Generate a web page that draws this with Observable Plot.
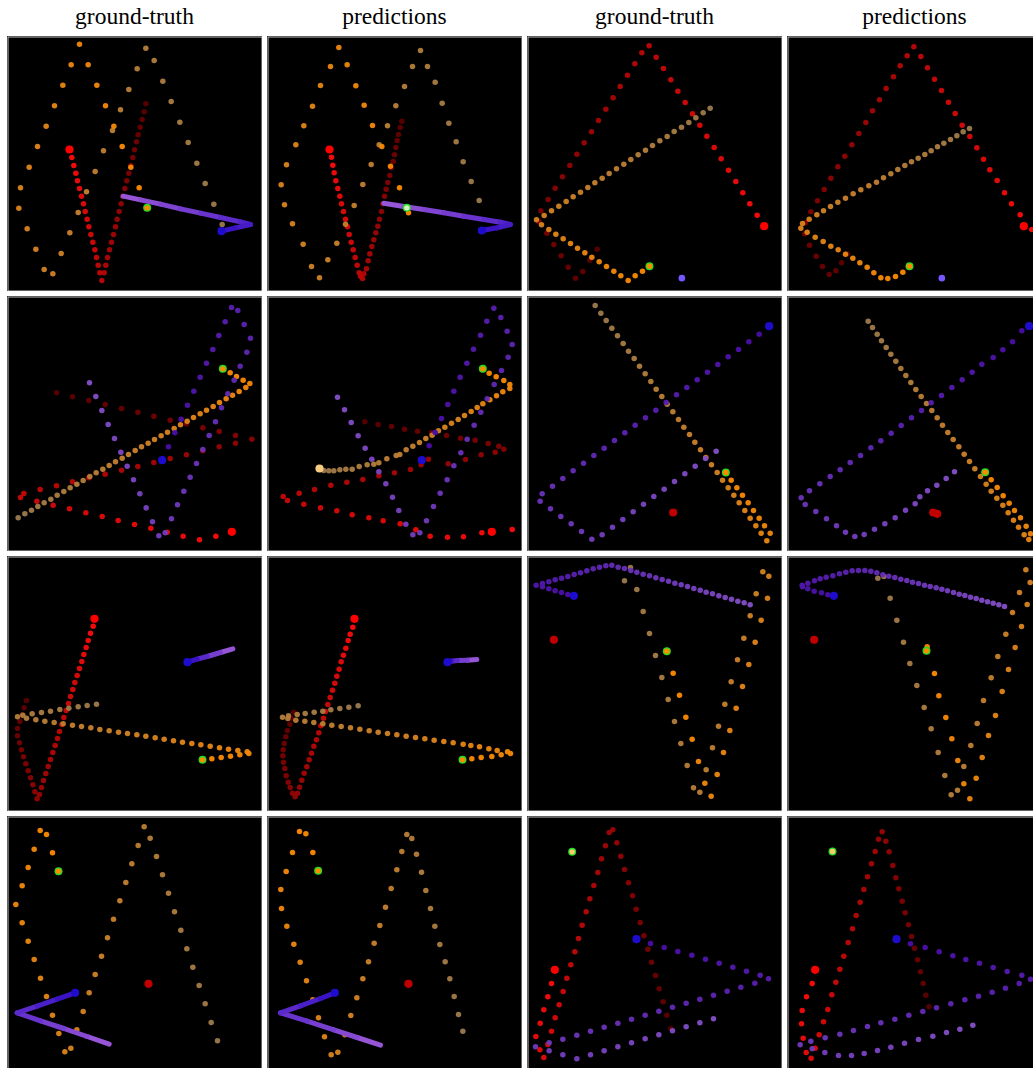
<!DOCTYPE html>
<html><head><meta charset="utf-8">
<script src="https://cdn.jsdelivr.net/npm/d3@7"></script>
<script src="https://cdn.jsdelivr.net/npm/@observablehq/plot@0.6"></script>
<style>
html,body{margin:0;padding:0;background:#fff;overflow:hidden;}
#root{position:relative;width:1033px;height:1068px;overflow:hidden;background:#fff;}
.hdr{position:absolute;top:5px;width:255px;text-align:center;font-family:"Liberation Serif","Times New Roman",serif;font-size:23.5px;line-height:1;color:#000;}
.panel{position:absolute;width:255px;height:255px;}
.panel svg{display:block;}
</style></head><body><div id="root"></div>
<script>
// Column titles
const headers = ["ground-truth", "predictions", "ground-truth", "predictions"];

// Trajectory samples, in 1/3-pixel units
// (each panel spans 765 units). Each list runs from the oldest (dark) sample to the newest.
// ---- row 1, col 1
const r11 = [[436,310],[431,334],[425,357],[419,380],[413,403],[408,424],[402,448],[397,471],[391,495],[385,518],[379,541],[373,564],[367,587],[362,610],[356,633],[350,656],[345,679],[339,702],[333,725],[327,748],[321,771],[316,794],[311,817],[304,840],[298,817],[293,794],[288,771],[283,748],[277,725],[271,702],[265,679],[260,656],[254,633],[249,610],[243,587],[237,564],[231,541],[226,518],[220,495],[214,471]];
const o11 = [[665,672],[640,611],[614,549],[589,488],[563,426],[538,365],[512,303],[487,242],[461,180],[436,143],[410,205],[385,267],[360,328],[336,390],[309,451],[284,513],[258,574],[233,636],[208,697],[182,759],[157,820],[131,807],[106,746],[80,685],[55,623],[60,562],[86,500],[111,438],[137,377],[162,316],[187,254],[212,193],[237,131],[263,193],[289,254],[315,316],[340,377],[365,438],[391,500],[416,562]];
const p11 = [[368,587],[420,598],[480,611],[540,625],[600,638],[660,651],[720,664],[750,672],[705,682],[663,692]];
const h11 = [["red",207,447],["blue",663,692]];
const g11 = [["orange",440,622]];
// ---- row 1, col 2
const r12 = [[1204,362],[1199,381],[1194,402],[1190,420],[1186,441],[1182,463],[1178,483],[1172,502],[1168,525],[1162,546],[1157,566],[1152,587],[1147,610],[1143,633],[1137,656],[1132,677],[1126,697],[1120,718],[1114,738],[1108,760],[1103,781],[1098,805],[1090,820],[1086,834],[1080,827],[1076,817],[1070,794],[1064,771],[1058,748],[1052,725],[1046,702],[1041,679],[1035,656],[1029,633],[1023,610],[1018,587],[1012,564],[1006,541],[1001,517],[997,494],[993,470]];
const o12 = [[1436,600],[1412,543],[1388,484],[1367,424],[1345,368],[1325,308],[1304,245],[1281,198],[1260,150],[1236,198],[1212,258],[1186,316],[1161,376],[1136,433],[1112,492],[1087,552],[1061,615],[1035,671],[1009,728],[982,778],[957,832],[933,798],[908,731],[876,670],[852,613],[842,553],[858,493],[886,433],[910,376],[936,317],[960,255],[990,198],[1015,141],[1040,193],[1066,256],[1091,314],[1116,375],[1144,438],[1170,497],[1197,562],[1224,637]];
const p12 = [[1150,608],[1210,618],[1270,627],[1330,637],[1390,647],[1450,657],[1500,665],[1530,672],[1490,682],[1444,690]];
const h12 = [["red",987,447],["blue",1444,690]];
const g12 = [["mint",1219,622]];
// ---- row 1, col 3
const r13 = [[230,746],[208,779],[187,813],[165,833],[143,800],[122,766],[100,732],[79,698],[55,663],[61,631],[83,597],[104,563],[126,529],[148,495],[169,461],[191,427],[213,394],[234,360],[256,326],[278,292],[299,258],[321,224],[343,190],[364,157],[386,136],[407,170],[429,204],[451,238],[472,272],[494,306],[516,340],[538,374],[559,407],[581,441],[602,475],[624,509],[646,543],[667,577],[688,610],[710,644]];
const o13 = [[569,323],[548,337],[526,352],[505,366],[483,380],[461,393],[440,408],[418,421],[396,435],[375,449],[353,463],[331,477],[310,491],[288,505],[266,519],[245,533],[223,547],[202,561],[180,575],[158,589],[137,603],[115,617],[93,631],[71,645],[48,658],[63,673],[85,687],[106,701],[128,715],[150,729],[171,743],[193,757],[214,770],[236,784],[258,798],[280,812],[301,826],[323,840],[344,826],[366,812]];
const p13 = [];
const h13 = [["red",731,677],["violet",484,833]];
const g13 = [["orange",387,797]];
// ---- row 1, col 4
const r14 = [[981,760],[963,787],[946,811],[926,822],[906,798],[887,767],[867,734],[853,700],[855,667],[871,634],[891,601],[911,567],[931,533],[952,499],[973,467],[994,433],[1015,399],[1036,366],[1056,331],[1077,298],[1097,264],[1119,229],[1139,196],[1160,166],[1180,139],[1201,168],[1221,202],[1242,236],[1263,270],[1284,305],[1304,339],[1325,374],[1348,408],[1369,442],[1389,476],[1408,508],[1430,540],[1452,577],[1473,610],[1499,643],[1534,687]];
const o14 = [[1347,384],[1328,394],[1309,406],[1290,417],[1270,428],[1251,439],[1232,451],[1213,462],[1193,473],[1173,484],[1153,495],[1132,507],[1111,520],[1089,532],[1068,545],[1045,556],[1021,568],[998,580],[975,593],[952,605],[930,618],[909,631],[889,643],[866,656],[846,669],[841,683],[860,695],[884,710],[908,723],[931,737],[953,748],[975,761],[997,773],[1018,787],[1040,800],[1060,817],[1081,832],[1102,834],[1125,828],[1147,815]];
const p14 = [];
const h14 = [["red",1510,677],["violet",1264,833]];
const g14 = [["orange",1167,797]];
// ---- row 2, col 1
const r21 = [[168,301],[216,313],[265,324],[314,336],[363,348],[412,359],[460,371],[509,383],[558,394],[607,406],[656,417],[705,429],[754,440],[705,452],[656,463],[607,475],[558,487],[509,498],[460,510],[412,522],[363,533],[314,545],[265,556],[216,568],[168,580],[119,591],[70,603],[60,615],[109,626],[158,638],[207,649],[256,661],[305,672],[353,684],[402,696],[451,707],[500,719],[548,731],[597,742],[646,731]];
const o21 = [[53,676],[73,664],[93,653],[112,642],[131,631],[151,620],[170,608],[190,597],[209,586],[229,575],[248,564],[268,552],[287,541],[307,530],[326,519],[345,508],[365,497],[384,486],[404,474],[423,463],[443,452],[462,441],[482,430],[501,419],[521,408],[540,397],[560,386],[579,375],[599,364],[618,353],[638,342],[657,330],[677,319],[696,308],[716,297],[736,285],[748,273],[728,263],[708,252],[689,241]];
const p21 = [[267,271],[286,312],[304,354],[323,396],[342,438],[361,479],[380,521],[399,562],[418,604],[437,646],[456,688],[475,730],[494,721],[513,679],[531,637],[550,596],[569,554],[588,513],[607,471],[626,429],[645,388],[663,346],[682,304],[701,263],[719,221],[739,179],[750,137],[731,96],[712,54],[693,45],[674,88],[655,129],[637,171],[618,212],[599,254],[580,296],[561,338],[542,380],[523,421],[504,463]];
const h21 = [["red",694,718],["blue",485,503]];
const g21 = [["orange",667,229]];
// ---- row 2, col 2
const r22 = [[1093,388],[1133,396],[1173,402],[1212,410],[1251,416],[1293,421],[1338,429],[1380,437],[1424,443],[1463,453],[1495,461],[1510,470],[1484,479],[1442,487],[1395,501],[1343,514],[1284,500],[1262,517],[1230,531],[1182,541],[1135,550],[1087,561],[1039,569],[991,578],[942,591],[896,602],[848,612],[861,624],[910,635],[960,646],[1009,655],[1055,667],[1105,676],[1148,685],[1199,694],[1246,712],[1289,731],[1341,734],[1389,733],[1444,721],[1535,711]];
const o22 = [[970,534],[985,535],[1000,535],[1018,532],[1036,530],[1055,530],[1076,522],[1100,517],[1120,515],[1135,511],[1159,499],[1187,489],[1198,486],[1217,472],[1237,461],[1257,450],[1276,438],[1295,428],[1314,415],[1333,404],[1353,392],[1373,381],[1392,369],[1412,357],[1430,345],[1447,334],[1468,322],[1488,310],[1507,298],[1528,288],[1528,276],[1510,264],[1487,253],[1466,242]];
const p22 = [[1011,314],[1032,352],[1052,390],[1073,430],[1094,467],[1114,500],[1135,538],[1156,574],[1176,614],[1195,654],[1216,695],[1237,727],[1258,721],[1278,685],[1299,642],[1319,602],[1340,562],[1360,520],[1381,481],[1400,440],[1421,398],[1441,359],[1460,319],[1481,276],[1503,234],[1523,194],[1535,156],[1520,116],[1501,75],[1480,47],[1459,86],[1440,128],[1419,170],[1399,212],[1379,254],[1360,296],[1342,336],[1323,378],[1304,420],[1286,460]];
const h22 = [["red",1474,718],["blue",1264,503],["pale",957,528]];
const g22 = [["orange",1447,229]];
// ---- row 2, col 3
const r23 = [];
const o23 = [[224,39],[241,62],[257,84],[274,107],[291,130],[308,153],[324,176],[341,198],[357,221],[374,244],[391,267],[407,290],[424,312],[440,335],[457,358],[474,381],[490,404],[507,426],[523,449],[540,472],[556,495],[573,517],[590,540],[606,563],[623,586],[640,608],[656,631],[673,654],[689,677],[706,700],[722,722],[739,745],[749,722],[732,700],[716,677],[699,654],[683,631],[666,608],[649,586],[632,563]];
const p23 = [[587,476],[555,498],[524,521],[493,544],[462,567],[431,590],[400,612],[369,635],[338,658],[307,681],[276,704],[245,727],[214,740],[183,717],[152,694],[121,672],[90,649],[59,626],[65,604],[96,581],[127,558],[158,535],[189,512],[220,489],[251,467],[282,444],[313,421],[344,398],[375,376],[406,353],[437,330],[468,307],[499,285],[530,262],[561,239],[592,216],[623,193],[654,171],[685,148],[716,125]];
const h23 = [["darkred",458,660],["blue",746,101]];
const g23 = [["orange",616,540]];
// ---- row 2, col 4
const r24 = [];
const o24 = [[1043,86],[1056,105],[1070,125],[1083,145],[1097,165],[1111,185],[1126,206],[1141,228],[1156,249],[1171,270],[1186,291],[1202,312],[1218,333],[1234,354],[1250,376],[1266,398],[1282,420],[1298,441],[1315,463],[1331,485],[1347,507],[1363,529],[1380,552],[1397,575],[1412,596],[1429,617],[1447,638],[1463,661],[1479,683],[1494,704],[1511,727],[1525,741],[1530,724],[1517,701],[1500,676],[1482,654],[1466,632],[1448,610],[1430,585],[1412,562]];
const p24 = [[1302,538],[1277,558],[1249,578],[1221,595],[1198,613],[1184,634],[1155,653],[1124,676],[1093,694],[1062,710],[1031,726],[1003,732],[975,719],[948,700],[918,679],[886,657],[854,636],[842,616],[867,595],[898,574],[929,552],[959,532],[989,510],[1020,489],[1051,466],[1081,445],[1112,422],[1142,399],[1173,376],[1203,354],[1232,331],[1263,309],[1294,285],[1325,262],[1355,239],[1384,215],[1418,195],[1447,172],[1476,148],[1504,115]];
const h24 = [["darkred",1238,660],["darkred",1250,664],["blue",1526,101]];
const g24 = [["orange",1394,539]];
// ---- row 3, col 1
const r31 = [[78,444],[71,466],[65,487],[58,507],[51,528],[51,550],[57,571],[63,592],[69,613],[76,634],[83,655],[90,676],[97,697],[103,718],[110,739],[117,726],[123,705],[129,684],[136,663],[143,642],[150,621],[157,600],[164,579],[171,558],[177,537],[184,516],[190,495],[197,474],[204,453],[210,432],[217,411],[223,390],[230,369],[237,348],[244,327],[250,306],[257,285],[263,264],[270,242],[278,221]];
const o31 = [[288,455],[260,459],[233,463],[205,467],[178,471],[150,476],[123,480],[95,484],[67,488],[51,493],[78,497],[106,502],[133,506],[161,510],[188,514],[216,518],[243,522],[271,526],[298,531],[326,535],[354,539],[381,543],[409,547],[436,551],[464,556],[491,560],[519,565],[546,569],[574,573],[601,577],[629,581],[657,586],[684,590],[712,594],[740,598],[745,603],[718,607],[690,611],[662,615],[634,619]];
const p31 = [[697,289],[660,300],[620,312],[590,320],[561,329]];
const h31 = [["red",282,199],["blue",561,329]];
const g31 = [["orange",606,622]];
// ---- row 3, col 2
const r32 = [[880,479],[873,497],[868,515],[861,534],[856,553],[851,573],[848,592],[847,610],[849,629],[853,648],[857,670],[863,689],[869,705],[876,722],[884,733],[891,722],[897,704],[904,683],[911,662],[919,643],[926,622],[933,602],[940,581],[948,562],[955,541],[961,520],[969,497],[975,477],[982,456],[989,435],[996,413],[1003,392],[1009,371],[1016,350],[1022,328],[1029,308],[1036,287],[1043,264],[1049,245],[1057,224]];
const o32 = [[1073,460],[1045,464],[1018,468],[991,472],[967,476],[941,479],[914,483],[890,486],[864,490],[846,494],[862,498],[886,503],[913,506],[940,510],[967,514],[994,518],[1022,522],[1050,526],[1078,530],[1106,535],[1133,539],[1161,543],[1189,547],[1217,551],[1245,555],[1273,559],[1301,563],[1330,567],[1358,571],[1388,575],[1411,579],[1437,583],[1465,589],[1490,594],[1521,598],[1530,603],[1502,607],[1474,612],[1442,615],[1414,619]];
const p32 = [[1429,321],[1400,323],[1370,324],[1352,326],[1341,329]];
const h32 = [["red",1062,199],["blue",1341,329]];
const g32 = [["orange",1386,622]];
// ---- row 3, col 3
const r33 = [];
const o33 = [[312,85],[330,45],[349,111],[368,177],[387,243],[405,309],[424,375],[443,441],[462,507],[481,573],[500,639],[519,706],[538,719],[557,652],[576,586],[594,521],[613,455],[632,388],[651,322],[670,257],[689,190],[707,124],[727,58],[745,71],[741,137],[722,203],[704,269],[685,336],[666,402],[647,467],[628,534],[609,600],[590,666],[572,731],[553,692],[534,627],[515,560],[496,494],[477,428],[458,362]];
const p33 = [[689,157],[671,151],[652,146],[633,140],[614,135],[595,130],[576,124],[557,119],[539,113],[520,108],[501,102],[482,97],[463,92],[444,86],[425,81],[406,76],[387,70],[368,65],[349,59],[331,54],[312,48],[293,44],[274,38],[256,40],[237,44],[218,49],[199,55],[180,61],[161,66],[142,72],[123,77],[104,82],[85,88],[66,93],[47,98],[66,103],[85,109],[104,115],[123,120],[142,126]];
const h33 = [["darkred",100,262],["blue",160,130]];
const g33 = [["orange",439,296]];
// ---- row 3, col 4
const r34 = [];
const o34 = [[1072,77],[1090,72],[1109,137],[1129,203],[1149,269],[1168,333],[1189,399],[1211,465],[1232,529],[1253,600],[1273,669],[1292,727],[1311,713],[1330,642],[1351,579],[1370,513],[1389,444],[1412,376],[1432,312],[1456,245],[1476,180],[1497,120],[1516,52],[1529,90],[1520,156],[1503,222],[1484,285],[1464,351],[1445,417],[1425,489],[1404,549],[1385,615],[1367,677],[1348,739],[1330,694],[1312,624],[1294,559],[1276,495],[1255,430],[1242,363],[1220,283]];
const p34 = [[1452,162],[1435,157],[1418,152],[1401,148],[1384,143],[1367,138],[1350,134],[1333,129],[1316,125],[1299,120],[1281,115],[1264,110],[1247,106],[1229,102],[1212,98],[1194,93],[1176,89],[1159,84],[1141,80],[1123,75],[1105,71],[1087,67],[1069,61],[1051,56],[1033,54],[1014,54],[995,55],[976,59],[957,64],[937,70],[917,74],[899,79],[882,85],[862,92],[845,98],[846,103],[862,109],[881,116],[903,121],[922,127]];
const h34 = [["darkred",881,262],["blue",940,130]];
const g34 = [["orange",1218,295]];
// ---- row 4, col 1
const r41 = [];
const o41 = [[651,685],[632,630],[614,574],[596,519],[577,464],[559,409],[541,353],[522,298],[504,242],[486,187],[468,132],[449,77],[431,43],[413,99],[394,154],[376,210],[358,265],[339,320],[321,376],[303,431],[284,486],[266,541],[248,597],[229,652],[211,707],[193,718],[175,663],[156,608],[138,552],[120,497],[101,441],[83,386],[65,331],[46,276],[65,220],[83,165],[101,110],[119,54],[138,66],[156,121]];
const p41 = [[326,695],[260,672],[190,648],[120,625],[50,601],[110,581],[170,560],[224,541]];
const h41 = [["darkred",444,514],["blue",224,541]];
const g41 = [["orange",174,176]];
// ---- row 4, col 2
const r42 = [];
const o42 = [[1387,656],[1374,606],[1361,552],[1348,499],[1334,448],[1318,396],[1303,341],[1290,288],[1276,234],[1263,179],[1248,125],[1234,78],[1219,66],[1204,117],[1189,172],[1172,228],[1155,284],[1138,339],[1121,392],[1104,448],[1087,499],[1069,556],[1051,609],[1033,667],[1012,719],[992,727],[972,673],[954,616],[937,562],[918,505],[899,449],[880,395],[859,341],[843,288],[841,231],[857,177],[876,120],[897,57],[916,64],[937,120]];
const p42 = [[1140,698],[1070,675],[1000,652],[920,626],[840,601],[900,580],[960,558],[1003,541]];
const h42 = [["darkred",1224,514],["blue",1003,541]];
const g42 = [["orange",953,175]];
// ---- row 4, col 3
const r43 = [[451,648],[439,608],[428,568],[416,529],[405,489],[393,449],[382,410],[370,370],[359,330],[347,290],[336,250],[324,211],[312,171],[301,131],[289,91],[277,52],[266,60],[255,100],[243,139],[232,180],[220,219],[208,259],[197,298],[185,338],[174,378],[163,418],[151,457],[139,497],[128,537],[116,577],[104,616],[93,656],[82,696],[70,735],[58,712],[46,672],[59,632],[70,592],[82,553],[93,513]];
const o43 = [];
const p43 = [[579,619],[538,631],[497,643],[456,655],[415,667],[374,679],[333,691],[292,703],[251,715],[210,727],[169,739],[127,727],[86,715],[45,703],[86,691],[127,680],[169,668],[210,656],[251,644],[292,632],[333,620],[374,608],[415,596],[456,584],[497,572],[538,560],[579,548],[620,536],[661,524],[703,512],[744,499],[719,488],[678,476],[637,464],[596,452],[555,440],[514,428],[472,417],[431,405],[390,393]];
const h43 = [["red",103,472],["blue",348,380]];
const g43 = [["pale",155,118]];
// ---- row 4, col 4
const r44 = [[1225,583],[1216,548],[1208,513],[1200,478],[1191,442],[1182,407],[1173,372],[1164,337],[1154,301],[1145,266],[1135,229],[1126,196],[1117,159],[1106,118],[1096,86],[1085,58],[1074,80],[1064,117],[1053,154],[1041,193],[1030,231],[1019,269],[1007,309],[996,349],[983,390],[970,431],[958,470],[946,509],[934,547],[922,591],[909,628],[896,667],[884,707],[872,737],[857,720],[848,677],[843,634],[845,594],[858,553],[875,513]];
const o44 = [];
const p44 = [[1357,638],[1318,650],[1278,660],[1237,671],[1194,681],[1152,692],[1111,704],[1071,714],[1031,723],[993,729],[954,729],[913,720],[875,709],[839,697],[871,686],[914,676],[958,665],[999,654],[1041,642],[1081,631],[1123,620],[1165,608],[1207,597],[1248,586],[1291,574],[1333,562],[1374,551],[1415,539],[1455,527],[1496,513],[1530,500],[1504,488],[1460,477],[1418,465],[1377,452],[1336,441],[1297,430],[1256,418],[1214,405],[1170,394]];
const h44 = [["red",884,472],["blue",1128,380]];
const g44 = [["pale",936,117]];

// Panel table built from the arrays above (trail = purple drawn as a dense streak)
const panels = [
  [r11,o11,p11,h11,g11,true],[r12,o12,p12,h12,g12,true],[r13,o13,p13,h13,g13,false],[r14,o14,p14,h14,g14,false],
  [r21,o21,p21,h21,g21,false],[r22,o22,p22,h22,g22,false],[r23,o23,p23,h23,g23,false],[r24,o24,p24,h24,g24,false],
  [r31,o31,p31,h31,g31,true],[r32,o32,p32,h32,g32,true],[r33,o33,p33,h33,g33,false],[r34,o34,p34,h34,g34,false],
  [r41,o41,p41,h41,g41,true],[r42,o42,p42,h42,g42,true],[r43,o43,p43,h43,g43,false],[r44,o44,p44,h44,g44,false]
];

// ---- styling
const PX = [7, 267, 527, 787], PY = [36, 296, 556, 816], SIZE = 255;
const DOT_R = 2.75, HEAD_R = 4.1;
const redI = d3.interpolateRgb("#5a0000", "#ff0c0c");
const oraI = d3.interpolateRgb("#9c7a4e", "#ff8a00");
const purI = d3.interpolateRgb("#8450c8", "#4a0ea8");
const trailI = d3.interpolateRgb("#9654d6", "#3a14c4");
const headColor = {red: "#ff0000", darkred: "#c00000", blue: "#1e0ccc", violet: "#7656ff", pale: "#f8cc80"};
const goalCenter = {orange: "#ff8a00", pale: "#ffc870", mint: "#d8f4c0"};

function seq(arr, interp) {
  const n = arr.length;
  return arr.map(([x, y], i) => ({x, y, c: interp(n > 1 ? i / (n - 1) : 1)}));
}
function segs(arr, interp) {
  const out = [];
  for (let i = 0; i < arr.length - 1; i++) {
    out.push({x1: arr[i][0], y1: arr[i][1], x2: arr[i + 1][0], y2: arr[i + 1][1], c: interp(i / Math.max(1, arr.length - 2))});
  }
  return out;
}

const root = document.getElementById("root");
headers.forEach((t, c) => {
  const d = document.createElement("div");
  d.className = "hdr";
  d.style.left = PX[c] + "px";
  d.textContent = t;
  root.appendChild(d);
});

panels.forEach(([red, orange, purple, heads, goals, trail], k) => {
  const row = Math.floor(k / 4), col = k % 4;
  const ox = col % 2 === 0 ? 21 : 801;
  const oy = row === 0 ? 108 : 12;
  const marks = [
    Plot.frame({fill: "black"}),
    Plot.dot(seq(red, redI), {x: "x", y: "y", r: DOT_R, fill: "c", fillOpacity: 0.95}),
    Plot.dot(seq(orange, oraI), {x: "x", y: "y", r: DOT_R, fill: "c", fillOpacity: 0.95})
  ];
  if (trail) {
    marks.push(Plot.link(segs(purple, trailI), {x1: "x1", y1: "y1", x2: "x2", y2: "y2", stroke: "c", strokeWidth: 5, strokeLinecap: "round"}));
  } else {
    marks.push(Plot.dot(seq(purple, purI), {x: "x", y: "y", r: DOT_R, fill: "c", fillOpacity: 0.95}));
  }
  const hd = heads.map(([kind, x, y]) => ({x, y, c: headColor[kind], r: kind === "violet" ? 3.3 : HEAD_R}));
  marks.push(Plot.dot(hd, {x: "x", y: "y", r: "r", fill: "c"}));
  const gd = goals.map(([kind, x, y]) => ({x, y, c: goalCenter[kind]}));
  marks.push(Plot.dot(gd, {x: "x", y: "y", r: 4, fill: "#22dd22"}));
  marks.push(Plot.dot(gd, {x: "x", y: "y", r: 2.7, fill: "c"}));
  marks.push(Plot.frame({stroke: "#c4c4c4", strokeWidth: 1, inset: 0.5}));

  const chart = Plot.plot({
    width: SIZE, height: SIZE, margin: 0,
    x: {domain: [ox, ox + 765], axis: null},
    y: {domain: [oy, oy + 765], reverse: true, axis: null},
    r: {type: "identity"},
    color: {type: "identity"},
    style: {background: "black"},
    marks
  });
  const wrap = document.createElement("div");
  wrap.className = "panel";
  wrap.style.left = PX[col] + "px";
  wrap.style.top = PY[row] + "px";
  wrap.appendChild(chart);
  root.appendChild(wrap);
});
</script></body></html>
